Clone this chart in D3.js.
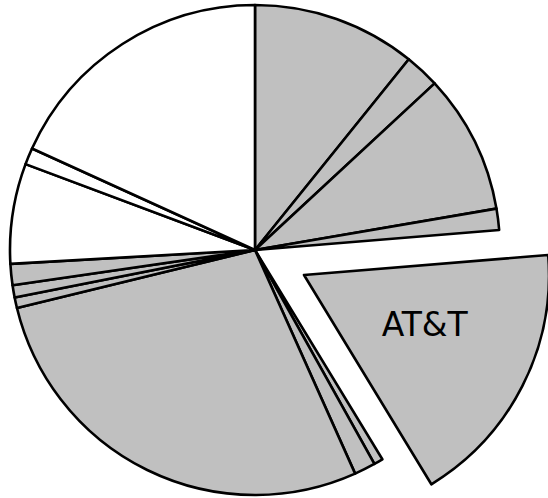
<!DOCTYPE html>
<html>
<head>
<meta charset="utf-8">
<script src="https://cdn.jsdelivr.net/npm/d3@7"></script>
<style>
  html, body { margin: 0; padding: 0; background: #fff; }
  svg { display: block; }
</style>
</head>
<body>
<svg id="chart" width="548" height="498"></svg>
<script>
// Data (shares in percent, clockwise from 12 o'clock)
const categories = ["Company A", "Company B", "Company C", "Company D", "AT&T", "Company F", "Company G",
                    "Company H", "Company I", "Company J", "Company K", "Company L", "Company M", "Company N"];
const shares = [10.8, 2.3, 9.2, 1.4, 17.6, 0.6, 1.4, 27.9, 0.7, 0.8, 1.4, 6.6, 1.1, 18.2];
const groups = ["gray", "gray", "gray", "gray", "gray", "gray", "gray",
                "gray", "gray", "gray", "gray", "white", "white", "white"];
const explodedLabel = "AT&T";

const cx = 255, cy = 250, radius = 245, explode = 55;
const colors = { gray: "#c0c0c0", white: "#ffffff" };

const data = categories.map((c, i) => ({ name: c, value: shares[i], group: groups[i] }));

const pie = d3.pie().sort(null).value(d => d.value);
const arc = d3.arc().innerRadius(0).outerRadius(radius);
const labelArc = d3.arc().innerRadius(radius * 0.553).outerRadius(radius * 0.553);

const svg = d3.select("#chart");
const g = svg.append("g").attr("transform", `translate(${cx},${cy})`);

const slices = g.selectAll("g.slice")
  .data(pie(data))
  .join("g")
  .attr("class", "slice")
  .attr("transform", d => {
    if (d.data.name !== explodedLabel) return null;
    const mid = (d.startAngle + d.endAngle) / 2;
    return `translate(${Math.sin(mid) * explode},${-Math.cos(mid) * explode})`;
  });

slices.append("path")
  .attr("d", arc)
  .attr("fill", d => colors[d.data.group])
  .attr("stroke", "#000")
  .attr("stroke-width", 2.6)
  .attr("stroke-linejoin", "round");

slices.filter(d => d.data.name === explodedLabel)
  .append("text")
  .attr("transform", d => `translate(${labelArc.centroid(d)})`)
  .attr("text-anchor", "middle")
  .attr("font-family", "DejaVu Sans, sans-serif")
  .attr("font-size", 33)
  .attr("fill", "#000")
  .text(d => d.data.name);
</script>
</body>
</html>
